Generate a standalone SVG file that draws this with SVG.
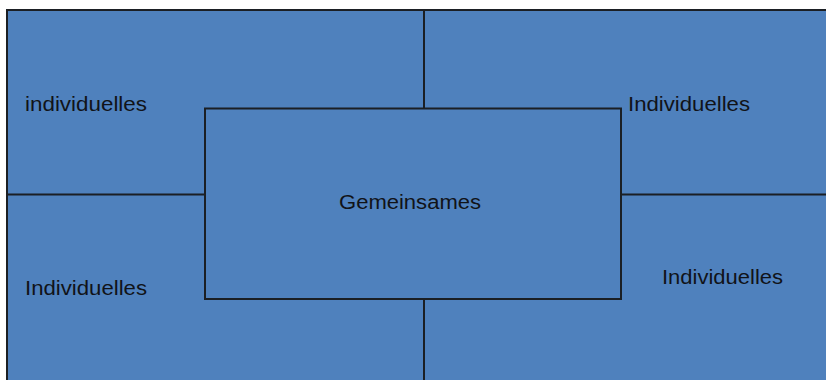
<svg xmlns="http://www.w3.org/2000/svg" width="826" height="380" viewBox="0 0 826 380">
<style>
.q{fill:#4f81bd;stroke:none}
.ln{stroke:#1b1f24;stroke-width:2;fill:none}
.t{font-family:"Liberation Sans",Arial,sans-serif;font-size:20px;fill:#111318}
</style>
<rect width="826" height="380" fill="#ffffff"/>
<g id="quadrant-tl"><rect class="q" x="7" y="10" width="417" height="185"/><text class="t" x="25" y="111" textLength="122" lengthAdjust="spacingAndGlyphs">individuelles</text></g>
<g id="quadrant-tr"><rect class="q" x="424" y="10" width="402" height="185"/><text class="t" x="628" y="111" textLength="122" lengthAdjust="spacingAndGlyphs">Individuelles</text></g>
<g id="quadrant-bl"><rect class="q" x="7" y="195" width="417" height="185"/><text class="t" x="25" y="295" textLength="122" lengthAdjust="spacingAndGlyphs">Individuelles</text></g>
<g id="quadrant-br"><rect class="q" x="424" y="195" width="402" height="185"/><text class="t" x="662" y="284" textLength="121" lengthAdjust="spacingAndGlyphs">Individuelles</text></g>
<g id="connectors">
<line class="ln" x1="6" y1="10" x2="826" y2="10"/>
<line class="ln" x1="7" y1="9" x2="7" y2="380"/>
<line class="ln" x1="424" y1="10" x2="424" y2="108"/>
<line class="ln" x1="424" y1="299" x2="424" y2="380"/>
<line class="ln" x1="7" y1="194.5" x2="205" y2="194.5"/>
<line class="ln" x1="621" y1="194.5" x2="826" y2="194.5"/>
</g>
<g id="center"><rect class="q" x="205" y="108.5" width="416" height="190.5"/><rect x="205" y="108.5" width="416" height="190.5" class="ln"/><text class="t" x="339" y="209" textLength="142" lengthAdjust="spacingAndGlyphs">Gemeinsames</text></g>
</svg>
